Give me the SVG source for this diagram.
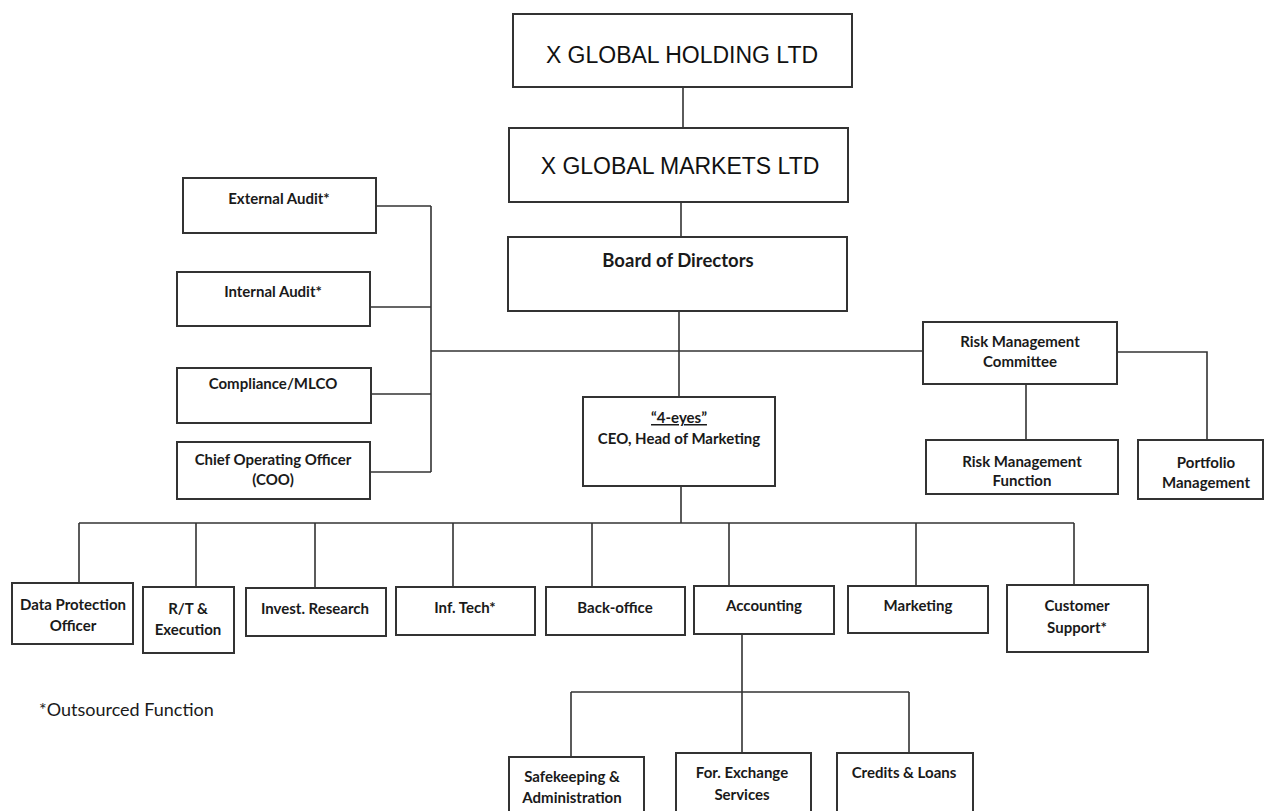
<svg xmlns="http://www.w3.org/2000/svg" width="1265" height="811" viewBox="0 0 1265 811">
<style>
.box{fill:#fff;stroke:#333;stroke-width:2}
.ln{fill:none;stroke:#333;stroke-width:1.6}
.t{font-family:Lato,"Liberation Sans",sans-serif;font-weight:bold;font-size:15px;fill:#1a1a1a;text-anchor:middle}
.big{font-family:"Liberation Sans",Arial,sans-serif;font-size:23px;fill:#111;text-anchor:middle}
.bd{font-size:18.5px}
.leg{font-family:Lato,"Liberation Sans",sans-serif;font-size:18px;fill:#1a1a1a}
</style>
<rect width="1265" height="811" fill="#fff"/>
<g id="connectors" class="ln">
<path d="M683 87V128"/>
<path d="M681 202V237"/>
<path d="M679 311V397"/>
<path d="M431 351H923"/>
<path d="M431 206V472"/>
<path d="M376 206H431M370 307H431M371 394H431M370 472H431"/>
<path d="M1026 384V440"/>
<path d="M1117 352H1207V440"/>
<path d="M681 486V523"/>
<path d="M79 523H1074"/>
<path d="M79 523V583M196 523V587M315 523V588M453 523V587M592 523V587M729 523V586M916 523V586M1074 523V585"/>
<path d="M742 634V753"/>
<path d="M571 692H909M571 692V757M909 692V753"/>
</g>
<g id="holding"><rect class="box" x="513" y="14" width="339" height="73"/><text class="big" x="682" y="63">X GLOBAL HOLDING LTD</text></g>
<g id="markets"><rect class="box" x="509" y="128" width="339" height="74"/><text class="big" x="680" y="174">X GLOBAL MARKETS LTD</text></g>
<g id="board"><rect class="box" x="508" y="237" width="339" height="74"/><text class="t bd" x="678" y="267">Board of Directors</text></g>
<g id="ceo"><rect class="box" x="583" y="397" width="192" height="89"/><text class="t" x="679" y="423" text-decoration="underline">“4-eyes”</text><text class="t" x="679" y="444">CEO, Head of Marketing</text></g>
<g id="external-audit"><rect class="box" x="183" y="178" width="193" height="55"/><text class="t" x="279" y="204">External Audit*</text></g>
<g id="internal-audit"><rect class="box" x="177" y="272" width="193" height="54"/><text class="t" x="273" y="297">Internal Audit*</text></g>
<g id="compliance"><rect class="box" x="177" y="368" width="194" height="55"/><text class="t" x="273" y="389">Compliance/MLCO</text></g>
<g id="coo"><rect class="box" x="177" y="442" width="193" height="57"/><text class="t" x="273" y="465">Chief Operating Officer</text><text class="t" x="273" y="485">(COO)</text></g>
<g id="rmc"><rect class="box" x="923" y="322" width="194" height="62"/><text class="t" x="1020" y="347">Risk Management</text><text class="t" x="1020" y="367">Committee</text></g>
<g id="rmf"><rect class="box" x="926" y="440" width="192" height="54"/><text class="t" x="1022" y="467">Risk Management</text><text class="t" x="1022" y="486">Function</text></g>
<g id="portfolio"><rect class="box" x="1138" y="440" width="125" height="59"/><text class="t" x="1206" y="468">Portfolio</text><text class="t" x="1206" y="488">Management</text></g>
<g id="dpo"><rect class="box" x="12" y="583" width="121" height="61"/><text class="t" x="73" y="610">Data Protection</text><text class="t" x="73" y="631">Officer</text></g>
<g id="rt"><rect class="box" x="143" y="587" width="91" height="66"/><text class="t" x="188" y="614">R/T &amp;</text><text class="t" x="188" y="635">Execution</text></g>
<g id="invest"><rect class="box" x="246" y="588" width="140" height="48"/><text class="t" x="315" y="614">Invest. Research</text></g>
<g id="inftech"><rect class="box" x="396" y="587" width="139" height="48"/><text class="t" x="465" y="613">Inf. Tech*</text></g>
<g id="backoffice"><rect class="box" x="546" y="587" width="139" height="48"/><text class="t" x="615" y="613">Back-office</text></g>
<g id="accounting"><rect class="box" x="694" y="586" width="140" height="48"/><text class="t" x="764" y="611">Accounting</text></g>
<g id="marketing"><rect class="box" x="848" y="586" width="140" height="47"/><text class="t" x="918" y="611">Marketing</text></g>
<g id="customer"><rect class="box" x="1007" y="585" width="141" height="67"/><text class="t" x="1077" y="611">Customer</text><text class="t" x="1077" y="633">Support*</text></g>
<g id="safekeeping"><rect class="box" x="509" y="757" width="135" height="70"/><text class="t" x="572" y="782">Safekeeping &amp;</text><text class="t" x="572" y="803">Administration</text></g>
<g id="forex"><rect class="box" x="676" y="753" width="135" height="70"/><text class="t" x="742" y="778">For. Exchange</text><text class="t" x="742" y="800">Services</text></g>
<g id="credits"><rect class="box" x="837" y="753" width="136" height="70"/><text class="t" x="904" y="778">Credits &amp; Loans</text></g>
<text class="leg" x="39" y="716">*Outsourced Function</text>
</svg>
